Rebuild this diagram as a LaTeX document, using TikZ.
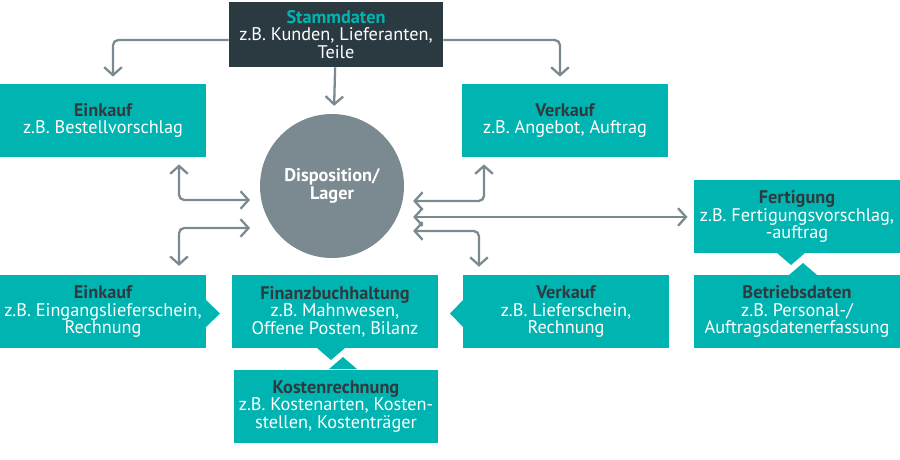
\documentclass[tikz,border=0pt]{standalone}
\usepackage{fontspec}
\setmainfont{PT Sans}
\usetikzlibrary{arrows.meta}
\definecolor{boxteal}{HTML}{00B5B1}
\definecolor{boxdark}{HTML}{2B3A41}
\definecolor{titledark}{HTML}{2F3A40}
\definecolor{linkgray}{HTML}{7B8A91}
\tikzset{
  box/.style={fill=boxteal,text=white,align=center,minimum width=4.12cm,minimum height=1.46cm,inner sep=0pt,font=\fontsize{10.4}{10}\selectfont},
  link/.style={draw=linkgray,line width=1.3pt,rounded corners=3pt,arrows={Straight Barb[length=4.5pt,width=10pt]-Straight Barb[length=4.5pt,width=10pt]}},
  linkto/.style={draw=linkgray,line width=1.3pt,rounded corners=3pt,-{Straight Barb[length=4.5pt,width=10pt]}}
}
\begin{document}
\begin{tikzpicture}[x=0.02cm,y=-0.02cm]
	\useasboundingbox (0,0) rectangle (900,460);
	% boxes
	\node[box,fill=boxdark,minimum width=4.28cm,minimum height=1.3cm] (stamm) at (336,34.5)
		{\textbf{\color{boxteal}Stammdaten}\\z.B. Kunden, Lieferanten,\\Teile};
	\node[box] (einkaufA) at (103,120.5) {\textbf{\color{titledark}Einkauf}\\z.B. Bestellvorschlag};
	\node[box] (verkaufA) at (565,120.5) {\textbf{\color{titledark}Verkauf}\\z.B. Angebot, Auftrag};
	\node[circle,fill=linkgray,text=white,minimum size=2.88cm,inner sep=0pt,align=center,
		font=\fontsize{10.4}{10}\selectfont\bfseries] (lager) at (332,186)
		{Disposition/\\Lager};
	\node[box] (fert) at (797,216.5) {\textbf{\color{titledark}Fertigung}\\z.B. Fertigungsvorschlag,\\-auftrag};
	\node[box] (betrieb) at (797,311.5) {\textbf{\color{titledark}Betriebsdaten}\\z.B. Personal-/\\Auftragsdatenerfassung};
	\node[box] (einkaufB) at (103,311.5) {\textbf{\color{titledark}Einkauf}\\z.B. Eingangslieferschein,\\Rechnung};
	\node[box] (fibu) at (335,311.5) {\textbf{\color{titledark}Finanzbuchhaltung}\\z.B. Mahnwesen,\\Offene Posten, Bilanz};
	\node[box] (verkaufB) at (566,311.5) {\textbf{\color{titledark}Verkauf}\\z.B. Lieferschein,\\Rechnung};
	\node[box,minimum width=4.08cm] (kosten) at (336,406.5) {\textbf{\color{titledark}Kostenrechnung}\\z.B. Kostenarten, Kosten-\\stellen, Kostentr\"ager};
	% pointers
	\fill[boxteal] (777,253) -- (791,265) -- (805,253) -- cycle;
	\fill[boxteal] (789,275) -- (803,263) -- (817,275) -- cycle;
	\fill[boxteal] (317,348) -- (331,360) -- (345,348) -- cycle;
	\fill[boxteal] (329,369) -- (343,357) -- (357,369) -- cycle;
	\fill[boxteal] (206,300) -- (220,313.5) -- (206,327) -- cycle;
	\fill[boxteal] (464,299) -- (450,313.5) -- (464,328) -- cycle;
	% Stammdaten
	\draw[linkto,shorten >=4pt] (stamm.west |- 0,40) -| (einkaufA.north -| 113,0);
	\draw[linkto,shorten >=4pt] (stamm.east |- 0,40) -| (verkaufA.north -| 560,0);
	\draw[linkto,shorten >=4.5pt] (stamm) -- (lager);
	% Disposition
	\draw[link,shorten <=4pt,shorten >=5.5pt] (einkaufA.south -| 179,0) |- (lager.west |- 0,200);
	\draw[link,shorten <=5.5pt,shorten >=5pt] (lager.west |- 0,228) -| (einkaufB.north -| 179,0);
	\draw[link,shorten <=5pt,shorten >=4pt] (lager.east |- 0,201) -| (verkaufA.south -| 484,0);
	\draw[link,shorten <=5pt,shorten >=3.5pt] (lager.east |- 0,217) -- (fert.west |- 0,217);
	\draw[link,shorten <=5pt,shorten >=4.5pt] (lager.east |- 0,231) -| (verkaufB.north -| 479,0);
\end{tikzpicture}
\end{document}
